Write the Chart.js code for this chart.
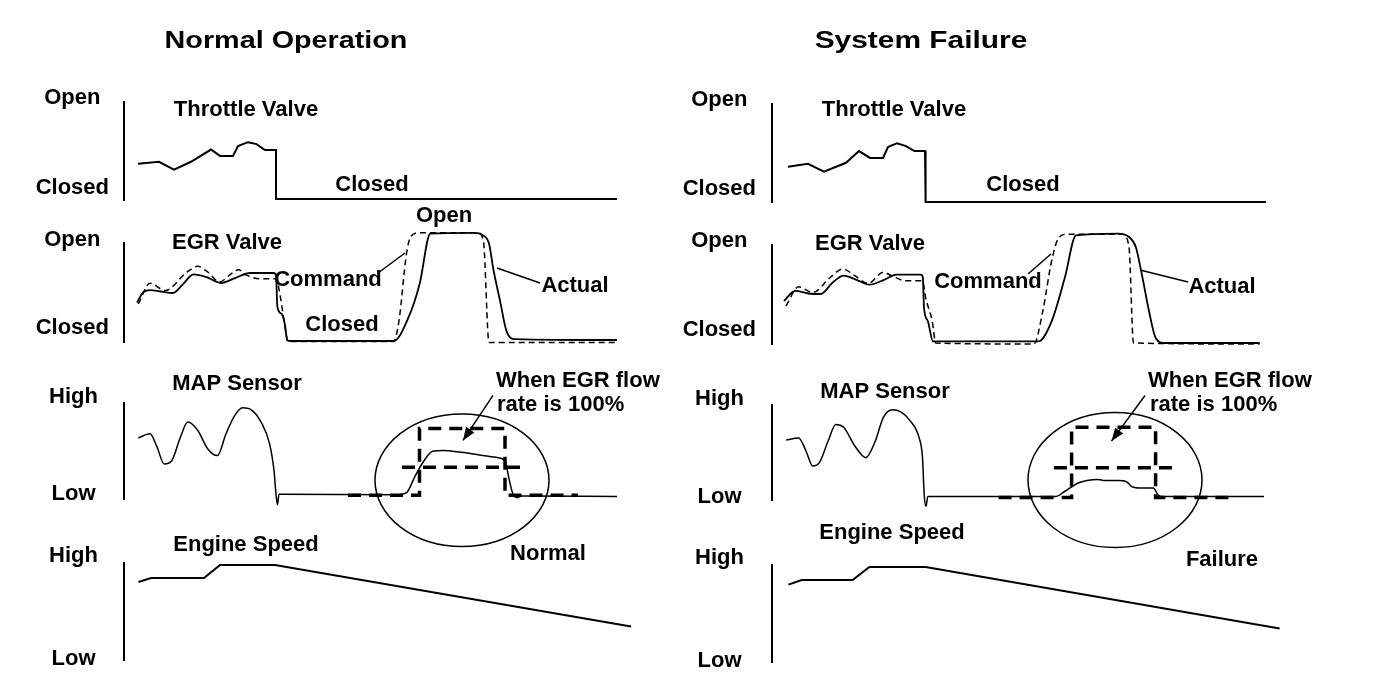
<!DOCTYPE html>
<html>
<head>
<meta charset="utf-8">
<script src="https://cdn.jsdelivr.net/npm/chart.js@4.4.1/dist/chart.umd.min.js"></script>
<style>
    html, body { margin: 0; padding: 0; background: #ffffff; }
    #wrap { position: relative; width: 1376px; height: 692px; overflow: hidden; }
    #wrap canvas { position: absolute; left: 0; top: 0; }
</style>
</head>
<body>
<div id="wrap"></div>
<script>
// x = time along the strip, y = level (0 = Closed / Low, 100 = Open / High)
const normalThrottle = [[14,37],[35,39],[50,31],[67,39],[87,51.5],[96,45],[109,45],[114,55],[124,59],[132.5,57],[141,51],[152,51],[152,1],[493,1]];
const normalEgrActual = [[13,40],[19.5,50.5],[26,52.5],[37,51],[49,49.5],[58.6,58],[69.5,68.3],[82.5,65.6],[97,59.6],[111,64.6],[126,69.7],[150,69.7],[152,67.3],[153.4,35.4],[157.7,28.3],[160.8,18.2],[163,3],[165,1],[269.5,1],[284.7,25.3],[295.6,58.6],[306.4,109.6],[350,110.3],[358.6,108],[365,99.4],[369.5,72.7],[376,41.8],[382.5,11.1],[391,3],[493,2]];
const normalEgrCommand = [[14.3,38.4],[26,59.4],[41,52],[63,70.7],[73.8,76.4],[83.8,70.7],[95.6,60.6],[106.4,68.3],[114.3,73],[123,67.3],[137,63.8],[152,63.8],[156.4,45.3],[160.8,16.4],[163.8,0.5],[269.5,0.5],[275,21.5],[282.5,89.3],[287,106.9],[295.6,110.3],[354,110.3],[359.5,101],[365,-0.5],[493,-0.5]];
const normalMap = [[14.3,63.6],[26,67.9],[32.5,55.6],[40.3,36.5],[47.7,39.9],[56.4,64.4],[63.8,80.2],[73.8,71.4],[83.8,52.1],[93.4,45.2],[102,67.9],[110.8,87.1],[118.6,95.1],[128,92.4],[137,80.2],[145.6,57.4],[150,29.5],[152,5],[153.5,-6],[155,5],[158,5],[271,4.5],[282.5,6.7],[291.2,24.2],[300,39.9],[308.6,49.7],[319.5,50.4],[337,48.6],[354,46.2],[371.7,43.4],[381,39.9],[384.7,22.5],[389,5],[393,1.5],[397.7,3.1],[493,2.5]];
const normalFlowFull = [[224,4],[295.5,4],[295.5,73.5],[381,73.5],[381,4],[454,4]];
const normalFlowHalf = [[278,33],[400,33]];
const normalSpeed = [[14.5,80.4],[27,84.5],[80,84.5],[96,98],[151,98],[507,34.6]];

const failureThrottle = [[16,36],[36,39],[52,31],[74,40],[87,52],[98,45],[111,45],[116,56],[125,60],[134,57],[142.5,52],[153,52],[153.6,0],[494,0]];
const failureEgrActual = [[12,43.4],[23,53.7],[36.3,51],[48.7,50.5],[60.7,62.2],[71.7,69],[85,64.6],[97.4,59.9],[111.5,64.6],[124.8,70.1],[149,70.1],[150.8,67.7],[152,36.8],[155.8,23.2],[161,2.7],[266.4,2.7],[279.7,23.2],[293,67.7],[304,109.8],[346,111.5],[357,108.1],[363.8,98],[370.4,67.4],[377,33.3],[383.7,6.1],[392.5,1],[487.6,1]];
const failureEgrCommand = [[14,38.4],[26.6,57.8],[40.7,52],[58.4,67.4],[70.8,75.8],[82.8,69],[96,61.2],[111.5,72.4],[119.5,69],[133.7,63.9],[150.5,63.9],[153.6,47],[160.2,23.2],[163.8,1],[262,0],[270.8,33.3],[279.7,84.3],[286.3,106.5],[295,110.9],[350.5,110.9],[357,98],[361.5,1],[487.6,0]];
const failureMap = [[14.2,63.2],[26.6,65.3],[34,51.6],[40.7,35.8],[47.4,39.3],[56.2,62.3],[63.8,79.4],[71.7,76.5],[82.8,56.9],[93.8,44.6],[102.7,60.5],[111.5,87.2],[120.4,94.9],[129.2,92.4],[138,83.6],[147,65.9],[150.5,44.6],[152.2,5.6],[154,-6.8],[155.8,3.8],[284,3.8],[293,9.2],[306.2,17.9],[315,20.5],[326,21.6],[332.8,20.5],[346,20.5],[355,19],[359.3,14.4],[368,12.6],[381.4,12.6],[385.9,5.6],[390.3,3.8],[492,3.8]];
const failureFlowFull = [[226.6,2.7],[299.6,2.7],[299.6,76.5],[383.6,76.5],[383.6,2.7],[458.9,2.7]];
const failureFlowHalf = [[281.9,34],[403.6,34]];
const failureSpeed = [[16.4,79.8],[29.7,84.5],[80.6,84.5],[97.4,97.9],[153.6,97.9],[507.6,34.6]];

const valveTicks = ['Open', 'Closed'];
const sensorTicks = ['High', 'Low'];

const FONT = '"Liberation Sans", Arial, Helvetica, sans-serif';
const W = 1376, H = 692;

function solid(data, width, smooth) {
    const ds = { data: data, borderColor: '#000', borderWidth: width, pointRadius: 0, tension: 0, clip: false };
    if (smooth) {
        ds.cubicInterpolationMode = 'monotone';
    }
    return ds;
}
function dashed(data, width, dash, smooth) {
    const ds = solid(data, width, smooth);
    ds.borderDash = dash;
    return ds;
}

function drawNotes(chart, p) {
    const ctx = chart.ctx, xs = chart.scales.x, ys = chart.scales.y;
    ctx.save();
    ctx.strokeStyle = '#000';
    ctx.fillStyle = '#000';
    (p.rings || []).forEach(r => {
        const cx = xs.getPixelForValue(r.x), cy = ys.getPixelForValue(r.y);
        const rx = xs.getPixelForValue(r.x + r.rx) - cx;
        const ry = cy - ys.getPixelForValue(r.y + r.ry);
        ctx.lineWidth = 1.5;
        ctx.beginPath();
        ctx.ellipse(cx, cy, rx, ry, 0, 0, Math.PI * 2);
        ctx.stroke();
    });
    (p.leaders || []).forEach(l => {
        const x1 = xs.getPixelForValue(l.from[0]), y1 = ys.getPixelForValue(l.from[1]);
        const x2 = xs.getPixelForValue(l.to[0]), y2 = ys.getPixelForValue(l.to[1]);
        ctx.lineWidth = 1.5;
        ctx.beginPath();
        ctx.moveTo(x1, y1);
        ctx.lineTo(x2, y2);
        ctx.stroke();
        if (l.head) {
            const a = Math.atan2(y2 - y1, x2 - x1), len = 13, half = 5;
            ctx.beginPath();
            ctx.moveTo(x2, y2);
            ctx.lineTo(x2 - len * Math.cos(a) + half * Math.sin(a), y2 - len * Math.sin(a) - half * Math.cos(a));
            ctx.lineTo(x2 - len * Math.cos(a) - half * Math.sin(a), y2 - len * Math.sin(a) + half * Math.cos(a));
            ctx.closePath();
            ctx.fill();
        }
    });
    (p.texts || []).forEach(t => {
        ctx.font = 'bold ' + (t.size || 22) + 'px ' + FONT;
        ctx.textAlign = t.align || 'center';
        ctx.textBaseline = 'middle';
        ctx.save();
        ctx.translate(t.x, t.y);
        ctx.scale(t.sx || 1, 1);
        ctx.fillText(t.text, 0, 0);
        ctx.restore();
    });
    ctx.restore();
}

function makePanel(p) {
    const canvas = document.createElement('canvas');
    canvas.width = W;
    canvas.height = H;
    document.getElementById('wrap').appendChild(canvas);
    const labelW = 110;
    return new Chart(canvas, {
        type: 'line',
        data: { datasets: p.datasets },
        options: {
            responsive: false,
            animation: false,
            events: [],
            layout: { padding: { left: p.axisX - labelW, top: p.top, right: W - p.axisX - 510, bottom: H - p.bottom } },
            plugins: { legend: { display: false }, tooltip: { enabled: false } },
            elements: { line: { capBezierPoints: false } },
            scales: {
                x: { type: 'linear', display: false, min: 0, max: 510 },
                y: {
                    type: 'linear',
                    min: 0,
                    max: 100,
                    afterFit: s => {
                        // keep the strip exactly where the axis line is; the labels may overhang it
                        s.width = labelW;
                        s.paddingTop = 0;
                        s.paddingBottom = 0;
                    },
                    afterBuildTicks: s => { s.ticks = p.tickAt.map(v => ({ value: v })); },
                    ticks: {
                        autoSkip: false,
                        crossAlign: 'center',
                        padding: p.tickPad,
                        color: '#000',
                        font: { family: FONT, size: 22, weight: 'bold' },
                        callback: (v, i) => p.tickText[i]
                    },
                    grid: { display: false, drawTicks: false },
                    border: { display: true, color: '#000', width: 2 }
                }
            }
        },
        plugins: [{ id: 'notes', afterDatasetsDraw: chart => drawNotes(chart, p) }]
    });
}

const panels = [
    // Normal operation column
    {
        axisX: 124, top: 102, bottom: 200, tickAt: [104, 12], tickText: valveTicks, tickPad: 15,
        datasets: [solid(normalThrottle, 2)],
        texts: [
            { text: 'Normal Operation', x: 286, y: 42, size: 23, sx: 1.25 },
            { text: 'Throttle Valve', x: 246, y: 110 },
            { text: 'Closed', x: 372, y: 185 }
        ]
    },
    {
        axisX: 124, top: 243, bottom: 342, tickAt: [103, 14], tickText: valveTicks, tickPad: 15,
        datasets: [solid(normalEgrActual, 1.8, true), dashed(normalEgrCommand, 1.5, [6, 4], true)],
        leaders: [{ from: [254, 69.7], to: [281, 89.9] }, { from: [373, 74.7], to: [416, 59.6] }],
        texts: [
            { text: 'EGR Valve', x: 227, y: 243 },
            { text: 'Open', x: 444, y: 216 },
            { text: 'Command', x: 328, y: 280 },
            { text: 'Closed', x: 342, y: 325 },
            { text: 'Actual', x: 575, y: 286 }
        ]
    },
    {
        axisX: 124, top: 403, bottom: 499, tickAt: [106, 5], tickText: sensorTicks, tickPad: 26,
        datasets: [solid(normalMap, 1.5, true), dashed(normalFlowFull, 3.5, [13, 8]), dashed(normalFlowHalf, 3.5, [13, 8])],
        rings: [{ x: 338, y: 19.5, rx: 87, ry: 69 }],
        leaders: [{ from: [369, 108], to: [339, 61], head: true }],
        texts: [
            { text: 'MAP Sensor', x: 237, y: 384 },
            { text: 'When EGR flow', x: 496, y: 381, align: 'left' },
            { text: 'rate is 100%', x: 497, y: 405, align: 'left' }
        ]
    },
    {
        axisX: 124, top: 563, bottom: 660, tickAt: [107, 1], tickText: sensorTicks, tickPad: 26,
        datasets: [solid(normalSpeed, 2)],
        texts: [
            { text: 'Engine Speed', x: 246, y: 545 },
            { text: 'Normal', x: 548, y: 554 }
        ]
    },
    // System failure column
    {
        axisX: 772, top: 104, bottom: 202, tickAt: [104, 13], tickText: valveTicks, tickPad: 16,
        datasets: [solid(failureThrottle, 2)],
        texts: [
            { text: 'System Failure', x: 921, y: 42, size: 23, sx: 1.3 },
            { text: 'Throttle Valve', x: 894, y: 110 },
            { text: 'Closed', x: 1023, y: 185 }
        ]
    },
    {
        axisX: 772, top: 245, bottom: 344, tickAt: [104, 14], tickText: valveTicks, tickPad: 16,
        datasets: [solid(failureEgrActual, 1.8, true), dashed(failureEgrCommand, 1.5, [6, 4], true)],
        leaders: [{ from: [256, 70.7], to: [279, 90.9] }, { from: [368, 74.7], to: [416, 62.6] }],
        texts: [
            { text: 'EGR Valve', x: 870, y: 244 },
            { text: 'Command', x: 988, y: 282 },
            { text: 'Actual', x: 1222, y: 287 }
        ]
    },
    {
        axisX: 772, top: 405, bottom: 500, tickAt: [106, 3], tickText: sensorTicks, tickPad: 28,
        datasets: [solid(failureMap, 1.5, true), dashed(failureFlowFull, 3.5, [13, 8]), dashed(failureFlowHalf, 3.5, [13, 8])],
        rings: [{ x: 343, y: 21, rx: 87, ry: 71 }],
        leaders: [{ from: [373, 110], to: [339.5, 62], head: true }],
        texts: [
            { text: 'MAP Sensor', x: 885, y: 392 },
            { text: 'When EGR flow', x: 1148, y: 381, align: 'left' },
            { text: 'rate is 100%', x: 1150, y: 405, align: 'left' }
        ]
    },
    {
        axisX: 772, top: 565, bottom: 662, tickAt: [107, 1], tickText: sensorTicks, tickPad: 28,
        datasets: [solid(failureSpeed, 2)],
        texts: [
            { text: 'Engine Speed', x: 892, y: 533 },
            { text: 'Failure', x: 1222, y: 560 }
        ]
    }
];

panels.forEach(makePanel);
</script>
</body>
</html>
